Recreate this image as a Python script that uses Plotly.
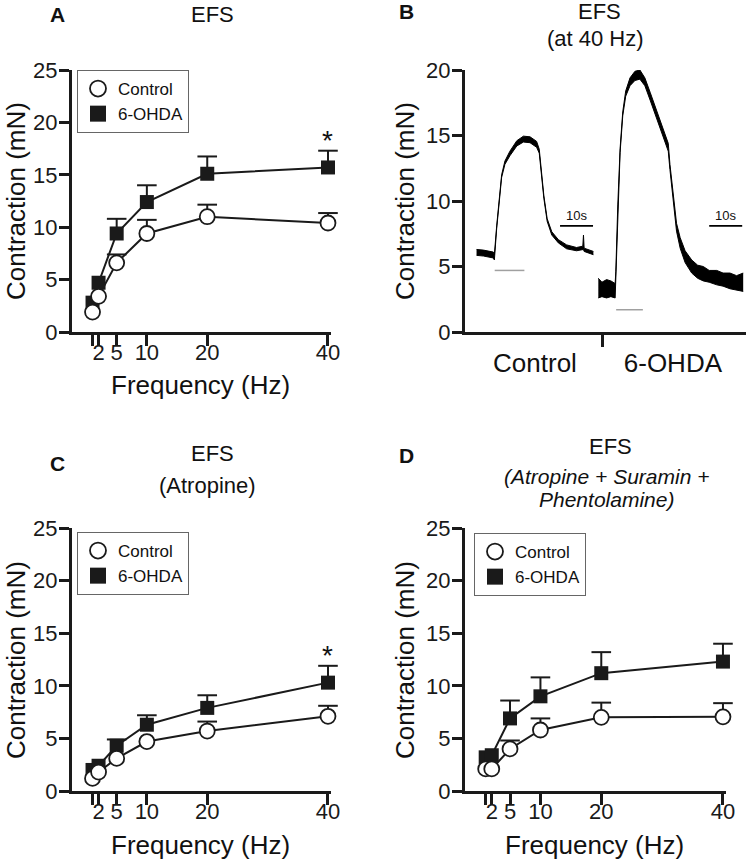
import plotly.graph_objects as go

# ---------------- data ----------------
FREQ = [1, 2, 5, 10, 20, 40]
FREQ_TICK_TEXT = ['', '2', '5', '10', '20', '40']
Y_TICKS_25 = [0, 5, 10, 15, 20, 25]
Y_TICKS_20 = [0, 5, 10, 15, 20]

# Panel A  (EFS); None = error bar hidden behind the symbol in the original
A_CONTROL = [1.9, 3.4, 6.6, 9.4, 11.0, 10.4]
A_CONTROL_SEM = [None, None, 0.8, 1.3, 1.15, 0.95]
A_OHDA = [2.8, 4.7, 9.4, 12.4, 15.1, 15.7]
A_OHDA_SEM = [None, None, 1.4, 1.6, 1.65, 1.6]
A_SIG = [40]

# Panel C  (EFS, Atropine)
C_CONTROL = [1.2, 1.8, 3.1, 4.7, 5.7, 7.1]
C_CONTROL_SEM = [None, None, None, None, 0.9, 1.0]
C_OHDA = [2.0, 2.4, 4.3, 6.3, 7.9, 10.3]
C_OHDA_SEM = [None, None, 0.6, 0.9, 1.2, 1.6]
C_SIG = [40]

# Panel D  (EFS, Atropine + Suramin + Phentolamine)
D_CONTROL = [2.1, 2.1, 4.0, 5.8, 7.0, 7.05]
D_CONTROL_SEM = [None, None, 0.8, 1.1, 1.4, 1.3]
D_OHDA = [3.2, 3.4, 6.9, 9.0, 11.2, 12.3]
D_OHDA_SEM = [None, None, 1.7, 1.8, 2.0, 1.7]

# Panel B  (representative traces at 40 Hz), time in s, envelope in mN
B_LABELS = ['Control', '6-OHDA']
B_LABEL_T = [21.2, 63.0]
B_DIVIDER_T = [41.8]

CTRL_T = [3.5, 5.6, 8.6, 8.9, 9.6, 10.4, 11.1, 12.1, 13.6, 15.7, 17.7, 19.7, 21.7,
          22.5, 23.2, 23.9, 24.9, 26.3, 28.3, 30.8, 33.8, 35.7, 35.9, 36.1, 38.9]
CTRL_HI = [6.3, 6.25, 6.1, 5.9, 8.1, 10.4, 12.0, 13.05, 13.8, 14.6, 14.95, 14.9, 14.55,
           13.95, 12.2, 10.4, 8.65, 7.65, 7.05, 6.65, 6.45, 6.55, 7.4, 6.4, 6.15]
CTRL_LO = [5.85, 5.8, 5.65, 5.5, 7.9, 10.2, 11.8, 12.8, 13.45, 14.2, 14.5, 14.45, 14.1,
           13.65, 12.0, 10.2, 8.45, 7.4, 6.8, 6.35, 6.2, 6.25, 6.3, 6.15, 5.9]

OHDA_T = [40.4, 41.5, 42.9, 44.2, 45.5, 45.7, 46.3, 47.0, 47.8, 48.7, 50.0, 51.5, 53.0,
          54.5, 56.1, 58.1, 60.1, 61.6, 62.1, 63.1, 64.1, 65.2, 66.7, 68.7, 70.5, 72.2,
          74.0, 76.3, 78.2, 80.3, 82.3, 84.3]
OHDA_HI = [4.1, 3.8, 4.0, 3.9, 3.7, 4.6, 9.7, 14.0, 16.8, 18.4, 19.4, 19.9, 20.0,
           19.4, 18.3, 16.9, 15.5, 14.4, 12.8, 10.3, 8.3, 7.2, 6.2, 5.5, 5.1, 5.0,
           4.7, 4.7, 4.5, 4.5, 4.3, 4.5]
OHDA_LO = [2.6, 2.7, 2.6, 2.7, 2.6, 4.3, 9.4, 13.7, 16.5, 18.0, 18.8, 19.2, 19.3,
           18.8, 17.7, 16.3, 14.9, 13.8, 12.4, 9.9, 7.7, 6.4, 5.3, 4.5, 4.1, 3.9,
           3.8, 3.6, 3.5, 3.3, 3.2, 3.1]

STIM_T0 = [9.0, 45.8]
STIM_T1 = [18.0, 53.9]
STIM_V = [4.7, 1.7]

SCALE_T0 = [28.8, 74.0]
SCALE_LEN_S = 10
SCALE_V = 8.1

# ---------------- layout helpers ----------------
W, H = 746, 861
FONT = "Arial, 'Liberation Sans', Helvetica, sans-serif"
INK = '#1a1a1a'


def fx(p):
    return p / W


def fy(p):
    return 1 - p / H


AX = dict(showline=True, linewidth=3, linecolor=INK, ticks='outside', tickwidth=3,
          tickcolor=INK, showgrid=False, zeroline=False, automargin=False,
          tickfont=dict(size=22, color=INK, family=FONT), fixedrange=True)

fig = go.Figure()


def add_series(xa, ya, mean, sem, control):
    tops = [m + s if s is not None else None for m, s in zip(mean, sem)]
    minus = [s if s is not None else 0 for s in sem]
    fig.add_trace(go.Scatter(
        x=FREQ, y=tops, mode='markers', xaxis=xa, yaxis=ya, cliponaxis=False,
        marker=dict(symbol='line-ew', size=14, color=INK, line=dict(width=2, color=INK)),
        error_y=dict(type='data', symmetric=False, array=[0] * len(sem), arrayminus=minus,
                     width=0, thickness=2, color=INK),
        showlegend=False, hoverinfo='skip'))
    if control:
        marker = dict(symbol='circle', size=15, color='white', line=dict(color=INK, width=1.8))
    else:
        marker = dict(symbol='square', size=14, color=INK, line=dict(color=INK, width=0))
    fig.add_trace(go.Scatter(
        x=FREQ, y=mean, mode='lines+markers', xaxis=xa, yaxis=ya, cliponaxis=False,
        line=dict(color=INK, width=2), marker=marker, showlegend=False))


def add_legend(legend_name):
    fig.add_trace(go.Scatter(
        x=[None], y=[None], mode='markers', name='Control', legend=legend_name,
        marker=dict(symbol='circle', size=16, color='white', line=dict(color=INK, width=1.8))))
    fig.add_trace(go.Scatter(
        x=[None], y=[None], mode='markers', name='6-OHDA', legend=legend_name,
        marker=dict(symbol='square', size=16, color=INK, line=dict(width=0))))


# Panel A
add_series('x', 'y', A_OHDA, A_OHDA_SEM, False)
add_series('x', 'y', A_CONTROL, A_CONTROL_SEM, True)
add_legend('legend')
# Panel C
add_series('x3', 'y3', C_OHDA, C_OHDA_SEM, False)
add_series('x3', 'y3', C_CONTROL, C_CONTROL_SEM, True)
add_legend('legend2')
# Panel D
add_series('x4', 'y4', D_OHDA, D_OHDA_SEM, False)
add_series('x4', 'y4', D_CONTROL, D_CONTROL_SEM, True)
add_legend('legend3')

# Panel B traces (noise envelope filled)
for t, lo, hi in [(CTRL_T, CTRL_LO, CTRL_HI), (OHDA_T, OHDA_LO, OHDA_HI)]:
    fig.add_trace(go.Scatter(x=t, y=lo, mode='lines', xaxis='x2', yaxis='y2',
                             line=dict(color='black', width=1.0), showlegend=False,
                             hoverinfo='skip'))
    fig.add_trace(go.Scatter(x=t, y=hi, mode='lines', xaxis='x2', yaxis='y2',
                             line=dict(color='black', width=1.0), fill='tonexty',
                             fillcolor='black', showlegend=False, hoverinfo='skip'))
# stimulation bars
for t0, t1, v in zip(STIM_T0, STIM_T1, STIM_V):
    fig.add_trace(go.Scatter(x=[t0, t1], y=[v, v], mode='lines', xaxis='x2', yaxis='y2',
                             line=dict(color='#a0a0a0', width=1.5), showlegend=False,
                             hoverinfo='skip'))
# 10 s scale bars
for t0 in SCALE_T0:
    fig.add_trace(go.Scatter(x=[t0, t0 + SCALE_LEN_S], y=[SCALE_V, SCALE_V], mode='lines',
                             xaxis='x2', yaxis='y2', line=dict(color='black', width=1.6),
                             showlegend=False, hoverinfo='skip'))

# ---------------- axes ----------------
freq_x = dict(AX, range=[-2.4, 40.5], tickmode='array', tickvals=FREQ,
              ticktext=FREQ_TICK_TEXT, ticklen=11, ticklabelstandoff=-12)
y25 = dict(AX, range=[0, 25], tickmode='array', tickvals=Y_TICKS_25, ticklen=10,
           ticklabelstandoff=-3)

fig.update_layout(
    width=W, height=H, margin=dict(l=0, r=0, t=0, b=0),
    paper_bgcolor='white', plot_bgcolor='white',
    font=dict(family=FONT, color='#111'),
    xaxis=dict(freq_x, domain=[fx(72), fx(331)], anchor='y'),
    yaxis=dict(y25, domain=[fy(332), fy(70)], anchor='x'),
    xaxis3=dict(freq_x, domain=[fx(72), fx(331)], anchor='y3'),
    yaxis3=dict(y25, domain=[fy(791), fy(528)], anchor='x3'),
    xaxis4=dict(freq_x, domain=[fx(465), fx(726)], anchor='y4'),
    yaxis4=dict(y25, domain=[fy(791), fy(528)], anchor='x4'),
    xaxis2=dict(AX, range=[0, 85.15], domain=[fx(465), 1.0], anchor='y2', tickmode='array',
                tickvals=B_LABEL_T, ticktext=B_LABELS, ticklen=6,
                tickcolor='rgba(0,0,0,0)', tickfont=dict(size=26, color='#111', family=FONT),
                minor=dict(tickmode='array', tickvals=B_DIVIDER_T, ticks='outside',
                           ticklen=12, tickwidth=3, tickcolor=INK)),
    yaxis2=dict(AX, range=[0, 20], domain=[fy(332), fy(70)], anchor='x2', tickmode='array',
                tickvals=Y_TICKS_20, ticklen=10, ticklabelstandoff=-3),
)

leg = dict(xanchor='left', yanchor='top', bordercolor='#666', borderwidth=1,
           bgcolor='white', font=dict(size=17, color='#111', family=FONT),
           tracegroupgap=0, itemwidth=30, traceorder='normal')
fig.update_layout(
    legend=dict(leg, x=fx(77), y=fy(70)),
    legend2=dict(leg, x=fx(77), y=fy(532)),
    legend3=dict(leg, x=fx(474), y=fy(533)),
)

# ---------------- text ----------------
ann = []


def text(x, y, s, size, bold=False, italic=False, angle=0):
    if bold:
        s = '<b>' + s + '</b>'
    if italic:
        s = '<i>' + s + '</i>'
    ann.append(dict(x=fx(x), y=fy(y), xref='paper', yref='paper', text=s, showarrow=False,
                    xanchor='center', yanchor='middle', textangle=angle,
                    font=dict(size=size, color='#111', family=FONT)))


# panel letters and titles
text(57, 15, 'A', 21, bold=True)
text(212, 15, 'EFS', 22)
text(406, 12, 'B', 21, bold=True)
text(599, 12, 'EFS', 22)
text(595, 39, '(at 40 Hz)', 22)
text(57, 463, 'C', 21, bold=True)
text(212, 453, 'EFS', 22)
text(207, 485, '(Atropine)', 22)
text(406, 455, 'D', 21, bold=True)
text(610, 447, 'EFS', 22)
text(606, 476, '(Atropine + Suramin +', 21, italic=True)
text(606, 499, 'Phentolamine)', 21, italic=True)

# axis titles
for cx, cy in [(16, 201), (405, 201), (16, 660), (405, 660)]:
    text(cx, cy, 'Contraction (mN)', 26, angle=-90)
for cx, cy in [(200, 385), (200, 845), (594, 845)]:
    text(cx, cy, 'Frequency (Hz)', 26)

# significance asterisks
for xa, ya, mean, sem, sig in [('x', 'y', A_OHDA, A_OHDA_SEM, A_SIG),
                               ('x3', 'y3', C_OHDA, C_OHDA_SEM, C_SIG)]:
    for f in sig:
        i = FREQ.index(f)
        ann.append(dict(x=f, y=mean[i] + sem[i], xref=xa, yref=ya, text='*',
                        showarrow=False, xanchor='center', yanchor='bottom', yshift=-7,
                        font=dict(size=28, color='#111', family=FONT)))

# scale bar labels
for t0 in SCALE_T0:
    ann.append(dict(x=t0 + SCALE_LEN_S / 2, y=SCALE_V, xref='x2', yref='y2', text='10s',
                    showarrow=False, xanchor='center', yanchor='bottom', yshift=1,
                    font=dict(size=13, color='#111', family=FONT)))

fig.update_layout(annotations=ann)

fig.write_html("out.html", config={'displayModeBar': False},
               post_script="document.body.style.margin='0px';")
